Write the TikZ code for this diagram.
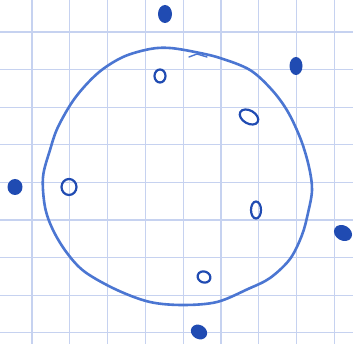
\documentclass[tikz,border=0pt]{standalone}
\begin{document}
\begin{tikzpicture}[x=1pt,y=-1pt,
  gridline/.style={draw=gridblue,line width=1.3pt},
  ink/.style={draw=inkblue,line width=2.6pt,line cap=round,line join=round},
  hole/.style={draw=dotblue,line width=2.2pt},
  dot/.style={fill=dotblue}]
\definecolor{gridblue}{RGB}{198,210,240}
\definecolor{inkblue}{RGB}{75,118,210}
\definecolor{dotblue}{RGB}{32,75,178}
\useasboundingbox[fill=white] (0,0) rectangle (353,344);
% grid
\foreach \i in {0,...,8} {
  \draw[gridline] ({32+37.8*\i},0) -- ({32+37.8*\i},344);
  \draw[gridline] (0,{32+37.6*\i}) -- (353,{32+37.6*\i});
}
% big circle
\draw[ink] plot[smooth cycle,tension=0.55] coordinates {
 (150,49) (170,48) (195,52) (220,58) (250,70) (272,90) (288,112) (301,140)
 (309,167) (312,190) (308,213) (302,235) (290,259) (270,278) (248,289)
 (217,302) (183,305) (150,302) (117,290) (85,272) (67,253) (53,230)
 (45,207) (43,177) (50,150) (58,127) (75,98) (98,73) (123,57)};
\draw[ink,line width=1.4pt] (189,57) -- (197,54) -- (207,57);
% open circles inside
\draw[hole] (160,76) ellipse (5.5pt and 6.5pt);
\draw[hole,rotate around={-30:(249,117)}] (249,117) ellipse (10pt and 6.5pt);
\draw[hole] (69,187) ellipse (7.5pt and 8pt);
\draw[hole] (256,210) ellipse (5pt and 8.5pt);
\draw[hole,rotate around={-20:(204,277)}] (204,277) ellipse (6.5pt and 5.5pt);
% filled dots outside
\fill[dot] (165,14) ellipse (7pt and 9pt);
\fill[dot] (296,66) ellipse (6.5pt and 9pt);
\fill[dot] (15,187) ellipse (7.5pt and 8pt);
\fill[dot,rotate around={-30:(343,233)}] (343,233) ellipse (9.5pt and 7.5pt);
\fill[dot,rotate around={-30:(199,332)}] (199,332) ellipse (8.5pt and 7pt);
\end{tikzpicture}
\end{document}
